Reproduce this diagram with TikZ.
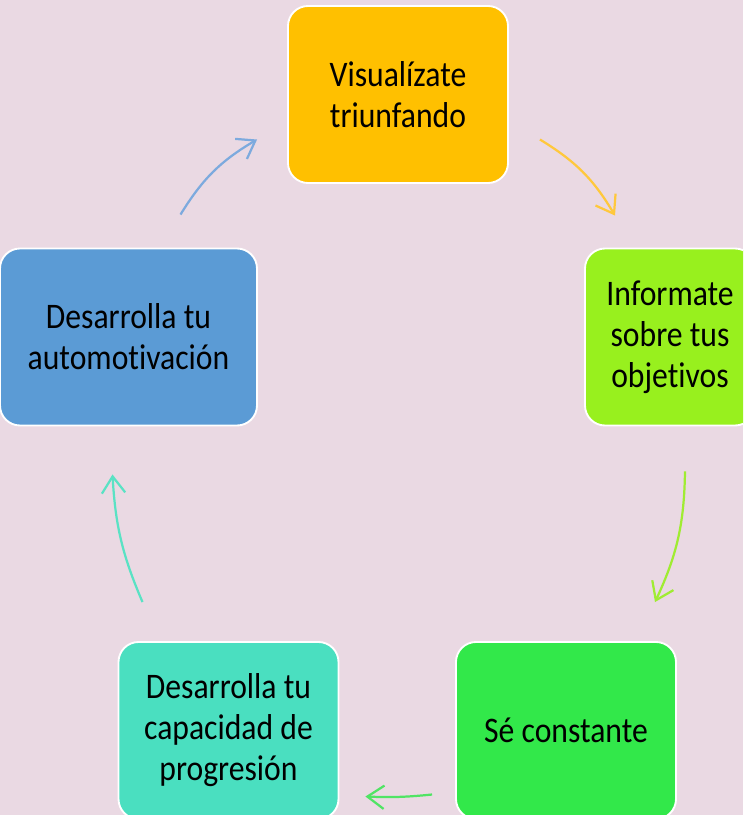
\documentclass[tikz,border=0pt]{standalone}
\usepackage{fontspec}
\setmainfont{Carlito}[FakeStretch=0.88, Ligatures=NoCommon]
\usetikzlibrary{arrows.meta}

\definecolor{bgpink}{RGB}{234,217,227}
\definecolor{goldbox}{RGB}{255,192,0}
\definecolor{limebox}{RGB}{152,240,30}
\definecolor{greenbox}{RGB}{50,232,74}
\definecolor{tealbox}{RGB}{74,223,192}
\definecolor{bluebox}{RGB}{91,155,213}

\begin{document}
\begin{tikzpicture}[
            x=0.03cm,
            y=-0.03cm,
            stage/.style={
                rectangle,
                rounded corners=0.6cm,
                minimum width=6.6cm,
                minimum height=5.31cm,
                align=center,
                draw=white,
                line width=1.6pt,
                text=black,
                font=\fontsize{30.7pt}{35pt}\selectfont
            },
            arrow/.style={
                line width=1.9pt,
                -{Straight Barb[length=5mm, width=7mm]}
            }
        ]
            % Background and frame
            \fill[bgpink] (0,0) rectangle (743,815);
            \useasboundingbox (0,0) rectangle (743,815);
            \clip (0,0) rectangle (743,815);

            % Define nodes
            \node[stage, fill=goldbox] (visual) at (398,94.5) {Visualízate\\triunfando};
            \node[stage, fill=limebox, minimum width=5.1cm] (inform) at (670,337) {Informate\\sobre tus\\objetivos};
            \node[stage, fill=greenbox] (constant) at (566,730.5) {Sé constante};
            \node[stage, fill=tealbox] (progress) at (228.5,730.5) {Desarrolla tu\\capacidad de\\progresión};
            \node[stage, fill=bluebox, minimum width=7.71cm] (selfmot) at (128.5,337) {Desarrolla tu\\automotivación};

            % Draw edges
            \draw[arrow, color={rgb,255:red,125;green,170;blue,222}] ([shift={(52,-33)}]selfmot.north) to[bend left=14] ([shift={(-30,45)}]visual.west);
            \draw[arrow, color={rgb,255:red,255;green,200;blue,60}] ([shift={(31,45)}]visual.east) to[bend left=14] ([shift={(-55,-32)}]inform.north);
            \draw[arrow, color={rgb,255:red,160;green,236;blue,50}] ([shift={(15,45)}]inform.south) to[bend left=12] ([shift={(89,-39)}]constant.north);
            \draw[arrow, color={rgb,255:red,80;green,228;blue,100}] ([shift={(-23,64)}]constant.west) to[bend left=4] ([shift={(26,66)}]progress.east);
            \draw[arrow, color={rgb,255:red,90;green,226;blue,196}] ([shift={(-86,-39)}]progress.north) to[bend left=10] ([shift={(-16,48)}]selfmot.south);
        \end{tikzpicture}
\end{document}
